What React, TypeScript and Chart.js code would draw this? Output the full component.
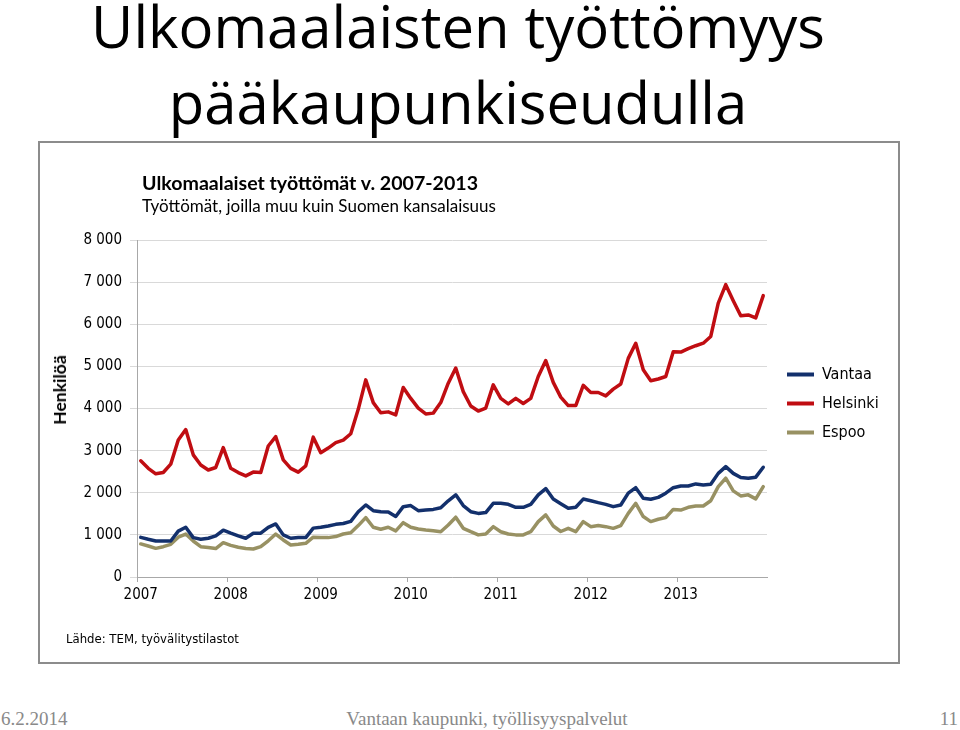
import React, { useEffect, useRef } from 'react';
import { Chart, registerables } from 'chart.js';

Chart.register(...registerables);

// ---- data ----
const years = ['2007', '2008', '2009', '2010', '2011', '2012', '2013'];
const monthNames = ['1', '2', '3', '4', '5', '6', '7', '8', '9', '10', '11', '12'];

const vantaa = [
  940, 895, 855, 855, 855, 1090, 1180, 935, 895, 920, 975, 1110,
  1040, 975, 920, 1040, 1040, 1180, 1260, 1000, 920, 935, 935, 1160,
  1180, 1210, 1250, 1270, 1320, 1550, 1710, 1575, 1550, 1545, 1435, 1670,
  1695, 1575, 1590, 1605, 1645, 1810, 1950, 1695, 1550, 1510, 1530, 1750,
  1750, 1725, 1655, 1655, 1725, 1950, 2100, 1850, 1740, 1630, 1655, 1850,
  1810, 1765, 1725, 1670, 1710, 1990, 2120, 1870, 1845, 1890, 1990, 2120,
  2160, 2160, 2210, 2185, 2200, 2460, 2620, 2460, 2360, 2345, 2370, 2605,
];

const helsinki = [
  2760, 2580, 2450, 2480, 2680, 3250, 3500, 2900, 2660, 2540, 2600, 3070,
  2580, 2480, 2400, 2490, 2480, 3110, 3330, 2780, 2580, 2490, 2640, 3320,
  2950, 3060, 3190, 3250, 3400, 3980, 4680, 4140, 3900, 3920, 3850, 4500,
  4240, 4010, 3870, 3890, 4140, 4600, 4960, 4400, 4060, 3940, 4010, 4560,
  4240, 4110, 4240, 4120, 4240, 4760, 5140, 4620, 4270, 4070, 4070, 4550,
  4380, 4380, 4300, 4460, 4580, 5190, 5550, 4920, 4660, 4700, 4760, 5350,
  5340, 5420, 5490, 5550, 5710, 6500, 6940, 6560, 6200, 6220, 6150, 6680,
];

const espoo = [
  785, 735, 680, 720, 775, 945, 1020, 855, 720, 700, 675, 815,
  750, 705, 675, 665, 720, 860, 1020, 880, 760, 775, 800, 945,
  935, 935, 960, 1020, 1050, 1220, 1410, 1180, 1135, 1180, 1095, 1290,
  1180, 1140, 1115, 1100, 1075, 1235, 1420, 1155, 1075, 1000, 1020, 1195,
  1075, 1020, 1000, 1000, 1075, 1315, 1475, 1210, 1080, 1155, 1075, 1315,
  1195, 1220, 1195, 1155, 1220, 1510, 1750, 1435, 1315, 1370, 1410, 1605,
  1590, 1655, 1685, 1685, 1810, 2145, 2345, 2045, 1925, 1950, 1855, 2145,
];

const yMin = 0;
const yMax = 8000;
const yStep = 1000;

const seriesNames = ['Vantaa', 'Helsinki', 'Espoo'];
const seriesColors = ['#13306c', '#c00d12', '#989163'];

const labels = years.flatMap((y) => monthNames.map((m) => `${m}/${y}`));

const fmt = (v: number) => String(v).replace(/\B(?=(\d{3})+(?!\d))/g, ' ');

const TICK_FONT = "'DejaVu Sans Condensed', 'DejaVu Sans', sans-serif";

const legendPatch = {
  id: 'legendPatch',
  beforeLayout(chart: any) {
    const lg = chart.legend;
    if (lg && !lg.__patched) {
      const orig = lg.fit.bind(lg);
      lg.fit = function () {
        orig();
        this.width = 130;
      };
      lg.__patched = true;
    }
  },
  afterLayout(chart: any) {
    const lg = chart.legend;
    if (lg) {
      lg.left += 7;
      lg.right += 7;
      lg.top -= 5;
      lg.bottom -= 5;
    }
  },
};

function ChartBox() {
  const ref = useRef<HTMLCanvasElement | null>(null);
  useEffect(() => {
    if (!ref.current) return;
    const data = [vantaa, helsinki, espoo];
    const chart = new Chart(ref.current, {
      type: 'line',
      data: {
        labels,
        datasets: seriesNames.map((name, i) => ({
          label: name,
          data: data[i],
          borderColor: seriesColors[i],
          backgroundColor: seriesColors[i],
          borderWidth: 3.5,
          pointRadius: 0,
          tension: 0,
          borderJoinStyle: 'round' as const,
          borderCapStyle: 'round' as const,
        })),
      },
      options: {
        animation: false,
        responsive: false,
        events: [],
        layout: { padding: { left: 0, right: 0, top: 96, bottom: 0 } },
        plugins: {
          tooltip: { enabled: false },
          title: { display: false },
          legend: {
            position: 'right',
            fullSize: false,
            align: 'center',
            labels: {
              boxWidth: 27,
              boxHeight: 4,
              padding: 13,
              color: '#000',
              font: { size: 16, family: TICK_FONT },
              generateLabels: (c: any) =>
                (Chart.defaults.plugins.legend.labels.generateLabels as any)(c).map((l: any) => ({
                  ...l,
                  lineWidth: 0,
                  fillStyle: l.strokeStyle,
                })),
            },
          },
        },
        scales: {
          x: {
            type: 'category',
            offset: true,
            grid: {
              offset: true,
              drawOnChartArea: false,
              drawTicks: true,
              tickLength: 5,
              color: (ctx: any) => (ctx.index % 12 === 0 ? '#a8a8a8' : 'rgba(0,0,0,0)'),
            },
            border: { color: '#a8a8a8', width: 1 },
            ticks: {
              autoSkip: false,
              maxRotation: 0,
              minRotation: 0,
              padding: 4,
              color: '#000',
              font: { size: 15, family: TICK_FONT },
              callback: (_v: any, i: number) => (i % 12 === 0 ? years[i / 12] : ''),
            },
            afterFit: (s: any) => {
              s.height = 84;
            },
          },
          y: {
            min: yMin,
            max: yMax,
            ticks: {
              stepSize: yStep,
              padding: 8,
              color: '#000',
              font: { size: 15, family: TICK_FONT },
              callback: (v: any) => fmt(Number(v)),
            },
            grid: { color: '#d9d9d9', tickLength: 7, lineWidth: 1 },
            border: { color: '#a8a8a8', width: 1 },
            afterFit: (s: any) => {
              s.width = 97;
            },
          },
        },
      },
      plugins: [legendPatch as any],
    });
    return () => chart.destroy();
  }, []);
  return (
    <canvas
      ref={ref}
      width={857}
      height={517}
      style={{ position: 'absolute', left: 40, top: 144, width: 857, height: 517 }}
    />
  );
}

const footerStyle: React.CSSProperties = {
  position: 'absolute',
  top: 707,
  fontFamily: "'Liberation Serif', 'Times New Roman', serif",
  fontSize: 19,
  lineHeight: '24px',
  color: '#898989',
  whiteSpace: 'nowrap',
};

export default function App() {
  return (
    <div
      style={{
        position: 'absolute',
        left: 0,
        top: 0,
        width: 960,
        height: 730,
        background: '#fff',
        overflow: 'hidden',
      }}
    >
      <div
        style={{
          position: 'absolute',
          left: 0,
          top: -12,
          width: 916,
          textAlign: 'center',
          fontFamily: "'Open Sans', sans-serif",
          fontSize: 58,
          lineHeight: '76px',
          color: '#000',
        }}
      >
        Ulkomaalaisten työttömyys
        <br />
        pääkaupunkiseudulla
      </div>

      <div
        style={{
          position: 'absolute',
          left: 38,
          top: 141,
          width: 862,
          height: 523,
          border: '2px solid #8c8c8c',
          boxSizing: 'border-box',
          background: '#fff',
        }}
      />
      <ChartBox />

      <div
        style={{
          position: 'absolute',
          left: 142,
          top: 173,
          fontFamily: 'Lato, sans-serif',
          fontWeight: 700,
          fontSize: 19.6,
          lineHeight: '20px',
          color: '#000',
          whiteSpace: 'nowrap',
        }}
      >
        Ulkomaalaiset työttömät v. 2007-2013
      </div>
      <div
        style={{
          position: 'absolute',
          left: 142,
          top: 197,
          fontFamily: 'Lato, sans-serif',
          fontSize: 17,
          lineHeight: '17px',
          color: '#000',
          whiteSpace: 'nowrap',
        }}
      >
        Työttömät, joilla muu kuin Suomen kansalaisuus
      </div>
      <div
        style={{
          position: 'absolute',
          left: 60,
          top: 390,
          transform: 'translate(-50%, -50%) rotate(-90deg)',
          fontFamily: 'Lato, sans-serif',
          fontWeight: 700,
          fontSize: 17.5,
          lineHeight: '18px',
          color: '#000',
          whiteSpace: 'nowrap',
        }}
      >
        Henkilöä
      </div>
      <div
        style={{
          position: 'absolute',
          left: 66,
          top: 631,
          fontFamily: TICK_FONT,
          fontSize: 13,
          lineHeight: '16px',
          color: '#000',
          whiteSpace: 'nowrap',
        }}
      >
        Lähde: TEM, työvälitystilastot
      </div>

      <div style={{ ...footerStyle, left: 1 }}>6.2.2014</div>
      <div style={{ ...footerStyle, left: 287, width: 400, textAlign: 'center' }}>
        Vantaan kaupunki, työllisyyspalvelut
      </div>
      <div style={{ ...footerStyle, right: 2 }}>11</div>
    </div>
  );
}
